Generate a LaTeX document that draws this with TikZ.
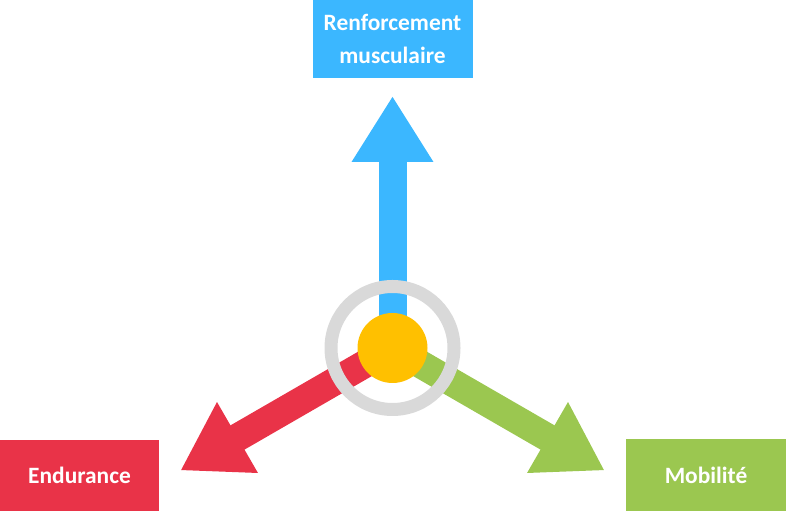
\documentclass[tikz,border=0pt]{standalone}
\usepackage{fontspec}
\setmainfont{Carlito}
\usetikzlibrary{arrows.meta,positioning}

\definecolor{blau}{RGB}{59,183,255}
\definecolor{rot}{RGB}{233,51,72}
\definecolor{gruen}{RGB}{155,199,80}
\definecolor{gelb}{RGB}{255,192,0}
\definecolor{grau}{RGB}{217,217,217}

\tikzset{
  box/.style={minimum width=160bp, minimum height=72bp, inner sep=0pt, align=center,
    text=white, font=\fontsize{23.5}{34}\selectfont\bfseries},
  arr/.style={line width=28bp, -{Triangle[length=66bp,width=77bp]}}
}

\begin{document}
\begin{tikzpicture}[x=1bp, y=1bp]
        \useasboundingbox (0,0) rectangle (786,512);
        \coordinate (c) at (392.5,164);
        \node [box, fill=blau, minimum height=78bp, above=309bp of c, anchor=center] (r) {Renforcement\\musculaire};
        \node [box, fill=rot, minimum width=159bp, minimum height=71bp, below left=127.5bp and 313bp of c, anchor=center] (e) {Endurance};
        \node [box, fill=gruen, below right=127bp and 313.5bp of c, anchor=center] (m) {Mobilit\'e};
        \coordinate (tr) at ([shift={(90:252)}]c);
        \coordinate (te) at ([shift={(210:245)}]c);
        \coordinate (tm) at ([shift={(330:245)}]c);
        \draw[arr, blau] (c) -- (tr);
        \draw[arr, rot] (c) -- (te);
        \draw[arr, gruen] (c) -- (tm);
        \draw[grau, line width=13bp] (c) circle (61.5);
        \node [circle, fill=gelb, minimum size=70bp, inner sep=0pt] (k) at (c) {};
      \end{tikzpicture}
\end{document}
